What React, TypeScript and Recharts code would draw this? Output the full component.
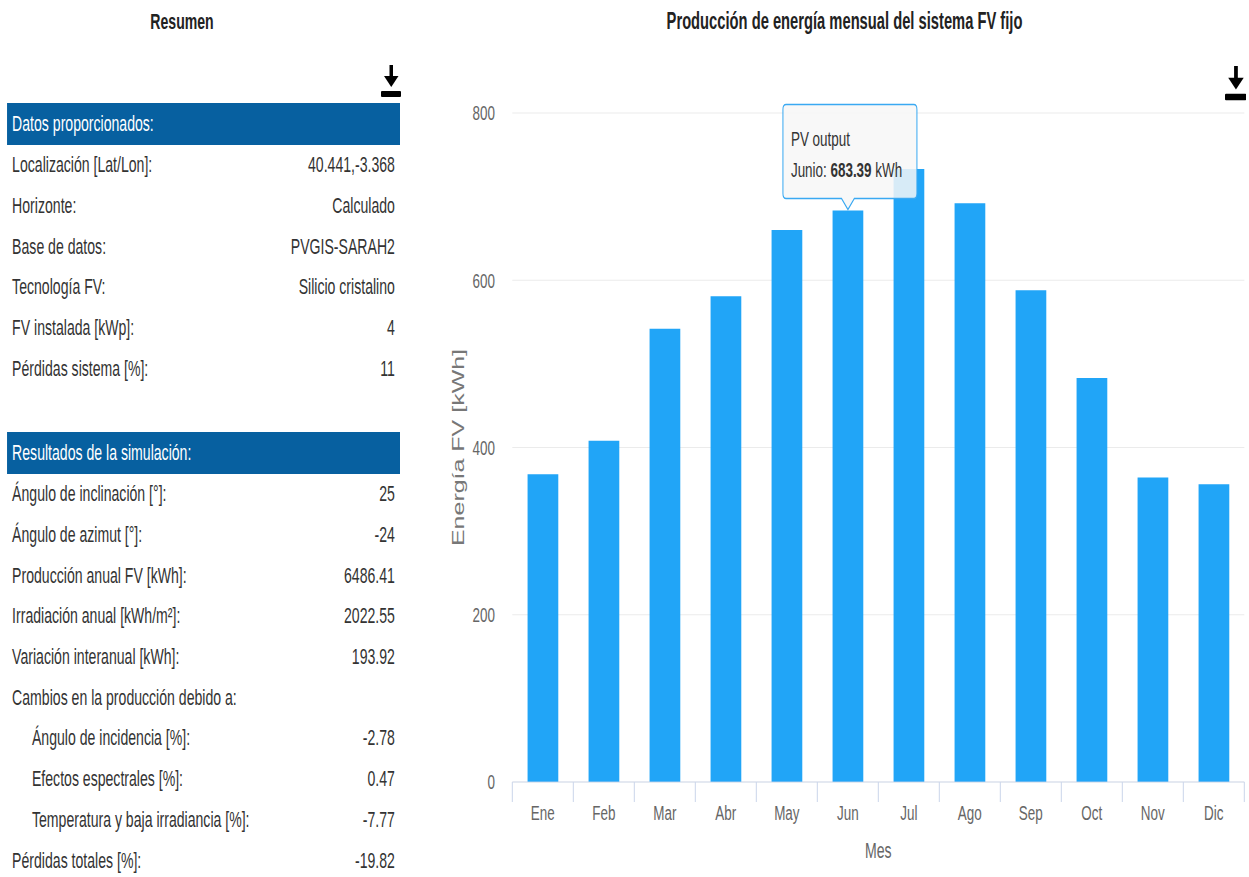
import { BarChart, Bar, XAxis, YAxis, CartesianGrid, LabelList } from "recharts";

// the reference is a horizontally squeezed screenshot, so everything is laid out
// wider and then squeezed with scaleX(S)
const S = 0.64;
const X = (x: number) => x / S;
const PAGE_W = X(1249);
const FONT = "'Liberation Sans', Arial, sans-serif";

const months = ["Ene", "Feb", "Mar", "Abr", "May", "Jun", "Jul", "Ago", "Sep", "Oct", "Nov", "Dic"];
const monthNames = [
  "Enero", "Febrero", "Marzo", "Abril", "Mayo", "Junio",
  "Julio", "Agosto", "Septiembre", "Octubre", "Noviembre", "Diciembre",
];
const pvOutput = [368, 408, 542, 581, 660, 683.39, 733, 692, 588, 483, 364, 356];
const yTicks = [0, 200, 400, 600, 800];
const hoveredMonth = 5;

const inputLabels = [
  "Localización [Lat/Lon]:",
  "Horizonte:",
  "Base de datos:",
  "Tecnología FV:",
  "FV instalada [kWp]:",
  "Pérdidas sistema [%]:",
];
const inputValues = ["40.441,-3.368", "Calculado", "PVGIS-SARAH2", "Silicio cristalino", "4", "11"];

const resultLabels = [
  "Ángulo de inclinación [°]:",
  "Ángulo de azimut [°]:",
  "Producción anual FV [kWh]:",
  "Irradiación anual [kWh/m²]:",
  "Variación interanual [kWh]:",
  "Cambios en la producción debido a:",
  "Ángulo de incidencia [%]:",
  "Efectos espectrales [%]:",
  "Temperatura y baja irradiancia [%]:",
  "Pérdidas totales [%]:",
];
const resultValues = ["25", "-24", "6486.41", "2022.55", "193.92", "", "-2.78", "0.47", "-7.77", "-19.82"];
const resultIndent = [false, false, false, false, false, false, true, true, true, false];

const BAR_COLOR = "#21a5f7";
const HEADER_BG = "#0760a0";

const chartData = months.map((m, i) => ({ month: m, output: pvOutput[i] }));

function DownloadIcon({ left, top, scale = 1 }: { left: number; top: number; scale?: number }) {
  return (
    <svg
      style={{ position: "absolute", left, top }}
      width={20 * scale}
      height={33 * scale}
      viewBox="0 0 20 33"
    >
      <rect x={8.5} y={0} width={3.5} height={13} fill="#000" />
      <polygon points="3,11 17.5,11 10.25,22" fill="#000" />
      <rect x={0} y={26} width={20} height={6} rx={1} fill="#000" />
    </svg>
  );
}

function Row({ label, value, indent, height }: { label: string; value: string; indent?: boolean; height: number }) {
  return (
    <div
      style={{
        height,
        display: "flex",
        alignItems: "center",
        justifyContent: "space-between",
        paddingLeft: indent ? 39 : 8,
        paddingRight: 8,
        color: "#333",
        fontSize: 22,
      }}
    >
      <span>{label}</span>
      <span>{value}</span>
    </div>
  );
}

function Header({ text }: { text: string }) {
  return (
    <div
      style={{
        height: 42,
        display: "flex",
        alignItems: "center",
        paddingLeft: 8,
        background: HEADER_BG,
        color: "#fff",
        fontSize: 22,
      }}
    >
      {text}
    </div>
  );
}

const MonthTick = (props: any) => {
  const { x, y, payload, index, visibleTicksCount } = props;
  const half = payload && payload.offset ? payload.offset : X(61) / 2;
  return (
    <g>
      <line x1={x - half} y1={y} x2={x - half} y2={y + 20} stroke="#ccd6eb" strokeWidth={1.6} />
      {index === visibleTicksCount - 1 && (
        <line x1={x + half} y1={y} x2={x + half} y2={y + 20} stroke="#ccd6eb" strokeWidth={1.6} />
      )}
      <text x={x} y={y + 31} textAnchor="middle" dominantBaseline="central" fill="#666" fontSize={21} fontFamily={FONT}>
        {payload.value}
      </text>
    </g>
  );
};

const Callout = (props: any) => {
  if (props.index !== hoveredMonth) return null;
  const vb = props.viewBox ?? props;
  const cx = vb.x + vb.width / 2;
  const top = vb.y;
  const left = cx - X(65);
  const right = cx + X(69);
  const bTop = top - 106;
  const bBot = top - 12;
  const r = 5;
  const d = `M${left + r},${bTop} H${right - r} Q${right},${bTop} ${right},${bTop + r} V${bBot - r} Q${right},${bBot} ${right - r},${bBot} H${cx + 10} L${cx},${top - 1} L${cx - 10},${bBot} H${left + r} Q${left},${bBot} ${left},${bBot - r} V${bTop + r} Q${left},${bTop} ${left + r},${bTop} Z`;
  return (
    <g>
      <path d={d} fill="rgba(247,247,247,0.85)" stroke="#3aa9f2" strokeWidth={1.6} />
      <text x={left + X(8)} y={top - 72} dominantBaseline="central" fontSize={21} fill="#333" fontFamily={FONT}>
        PV output
      </text>
      <text x={left + X(8)} y={top - 41} dominantBaseline="central" fontSize={21} fill="#333" fontFamily={FONT}>
        <tspan>{monthNames[props.index]}: </tspan>
        <tspan fontWeight="bold">{Number(props.value).toFixed(2)}</tspan>
        <tspan> kWh</tspan>
      </text>
    </g>
  );
};

const YTitle = (props: any) => {
  const vb = props.viewBox;
  const x = vb.x + 28;
  const y = vb.y + vb.height / 2;
  return (
    <text
      x={x}
      y={y}
      transform={`rotate(-90 ${x} ${y})`}
      textAnchor="middle"
      dominantBaseline="central"
      fill="#777"
      fontSize={25}
      fontFamily={FONT}
    >
      Energía FV [kWh]
    </text>
  );
};

const XTitle = (props: any) => {
  const vb = props.viewBox;
  return (
    <text
      x={vb.x + vb.width / 2}
      y={vb.y + 68}
      textAnchor="middle"
      dominantBaseline="central"
      fill="#666"
      fontSize={22}
      fontFamily={FONT}
    >
      Mes
    </text>
  );
};

export default function App() {
  const chartLeft = X(440);
  const chartW = PAGE_W - chartLeft;
  return (
    <div style={{ position: "absolute", left: 0, top: 0, width: 1249, height: 877, overflow: "hidden", background: "#fff" }}>
      <div
        style={{
          position: "absolute",
          left: 0,
          top: 0,
          width: PAGE_W,
          height: 877,
          transform: `scaleX(${S})`,
          transformOrigin: "0 0",
          fontFamily: FONT,
        }}
      >
        <div style={{ position: "absolute", left: X(182) - 200, width: 400, top: 9, textAlign: "center", fontWeight: "bold", fontSize: 22, color: "#222" }}>
          Resumen
        </div>
        <div style={{ position: "absolute", left: X(7), top: 103, width: X(400) - X(7) }}>
          <Header text="Datos proporcionados:" />
          {inputLabels.map((l, i) => (
            <Row key={l} label={l} value={inputValues[i]} height={40.7} />
          ))}
        </div>
        <div style={{ position: "absolute", left: X(7), top: 432, width: X(400) - X(7) }}>
          <Header text="Resultados de la simulación:" />
          {resultLabels.map((l, i) => (
            <Row key={l} label={l} value={resultValues[i]} indent={resultIndent[i]} height={40.7} />
          ))}
        </div>

        <div style={{ position: "absolute", left: chartLeft, width: chartW, top: 8, textAlign: "center", fontWeight: "bold", fontSize: 23, color: "#222" }}>
          Producción de energía mensual del sistema FV fijo
        </div>
        <div style={{ position: "absolute", left: chartLeft, top: 90 }}>
          <BarChart
            width={chartW}
            height={787}
            data={chartData}
            margin={{ top: 23, right: chartW - (X(1244) - chartLeft), left: 0, bottom: 15 }}
            barCategoryGap="25%"
          >
            <CartesianGrid vertical={false} stroke="#e6e6e6" />
            <XAxis
              dataKey="month"
              height={80}
              axisLine={{ stroke: "#ccd6eb" }}
              tickLine={false}
              tickSize={0}
              tickMargin={0}
              tick={<MonthTick />}
              interval={0}
              label={<XTitle />}
            />
            <YAxis
              width={X(512) - chartLeft}
              domain={[0, 800]}
              ticks={yTicks}
              axisLine={false}
              tickLine={false}
              tickSize={0}
              tickMargin={27}
              tick={{ fill: "#666", fontSize: 21, fontFamily: FONT }}
              label={<YTitle />}
            />
            <Bar dataKey="output" fill={BAR_COLOR} isAnimationActive={false}>
              <LabelList dataKey="output" content={<Callout />} />
            </Bar>
          </BarChart>
        </div>
      </div>
      <DownloadIcon left={381} top={65} />
      <DownloadIcon left={1225} top={66} scale={1.07} />
    </div>
  );
}
